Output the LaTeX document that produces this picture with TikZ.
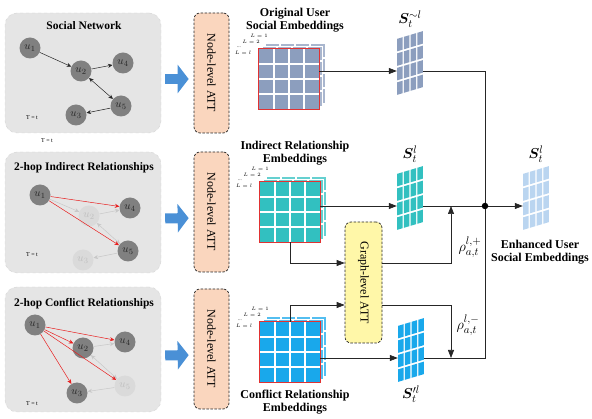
\documentclass[tikz,border=0pt]{standalone}
\usepackage{amsmath,amssymb,bm}
\usepackage{graphicx}
\usepackage{fontspec}
\setmainfont{Liberation Serif}
\usetikzlibrary{positioning,calc,arrows.meta}

\definecolor{panelgray}{RGB}{229,229,229}
\definecolor{panelline}{RGB}{212,212,212}
\definecolor{userdark}{RGB}{128,128,128}
\definecolor{userfade}{RGB}{218,218,218}
\definecolor{edgefade}{RGB}{200,200,200}
\definecolor{edgered}{RGB}{232,30,30}
\definecolor{attpeach}{RGB}{250,214,190}
\definecolor{attyellow}{RGB}{255,247,168}
\definecolor{bluearrow}{RGB}{74,144,214}
\definecolor{embslate}{RGB}{140,158,190}
\definecolor{embteal}{RGB}{50,192,192}
\definecolor{embblue}{RGB}{25,168,235}
\definecolor{embsoft}{RGB}{186,213,240}
\definecolor{embred}{RGB}{225,50,50}

% stacked embedding matrix: name, centre, colour
\newcommand{\embstack}[3]{%
  \coordinate (#1-c) at (#2);
  \foreach \d in {6,3}{
    \fill[#3!75!white] ([shift={(-30+\d,-30-\d)}]#1-c) rectangle ++(60,60);
    \draw[white, line width=.8pt] ([shift={(-30+\d,-30-\d)}]#1-c) rectangle ++(60,60);
    \foreach \k in {15,30,45}{
      \draw[white, line width=1.2pt] ([shift={(-30+\d+\k,-30-\d)}]#1-c) -- ++(0,60);
      \draw[white, line width=1.2pt] ([shift={(-30+\d,-30-\d+\k)}]#1-c) -- ++(60,0);
    }
  }
  \node[emb, fill=#3] (#1) at (#1-c) {};
  \foreach \k in {15,30,45}{
    \draw[white, line width=1.5pt] ([shift={(-30+\k,-30)}]#1-c) -- ++(0,60);
    \draw[white, line width=1.5pt] ([shift={(-30,-30+\k)}]#1-c) -- ++(60,0);
  }
  \draw[embedge] (#1.north west) rectangle (#1.south east);
  \node[layer] (#1-l1) at ([shift={(-30,-43)}]#1-c) {$L=1$};
  \node[layer] (#1-l2) at ([shift={(-38,-37)}]#1-c) {$L=2$};
  \node[layer] (#1-ld) at ([shift={(-50,-32)}]#1-c) {...};
  \node[layer] (#1-ll) at ([shift={(-46,-26)}]#1-c) {$L=l$};
}

% slanted user embedding: name, centre, colour, label
\newcommand{\slantgrid}[4]{%
  \node[slot, #4] (#1) at (#2) {};
  \begin{scope}[shift={(#1.center)}, yslant=0.3]
    \foreach \i in {0,...,3}
      \foreach \j in {0,...,3}
        \fill[#3] (-13+6.8*\i, -28+14.5*\j) rectangle ++(5.5,12.5);
  \end{scope}
}

\begin{document}
\begin{tikzpicture}[x=1pt,y=-1pt]
  \tikzstyle{panel}=[draw=panelline, dashed, fill=panelgray, rounded corners=12pt,
    minimum width=156pt]
  \tikzstyle{ptitle}=[font=\bfseries\fontsize{11.5}{13}\selectfont]
  \tikzstyle{user}=[circle, fill=userdark, inner sep=0pt, minimum size=21pt,
    font=\fontsize{11}{12}\selectfont, text=black!85]
  \tikzstyle{ghost}=[user, fill=userfade, text=black!25]
  \tikzstyle{tlabel}=[font=\fontsize{6}{7}\selectfont]
  \tikzstyle{fedge}=[-{Stealth[length=4.5pt,width=4pt]}, line width=.5pt, black!85]
  \tikzstyle{fboth}=[fedge, {Stealth[length=4.5pt,width=4pt]}-{Stealth[length=4.5pt,width=4pt]}]
  \tikzstyle{gedge}=[fedge, edgefade]
  \tikzstyle{gboth}=[fboth, edgefade]
  \tikzstyle{redge}=[fedge, edgered]
  \tikzstyle{bigarrow}=[bluearrow, line width=10pt, -{Triangle[length=11pt,width=28pt]},
    shorten <=4pt, shorten >=5pt]
  \tikzstyle{nodeatt}=[draw=black!85, line width=.7pt, dash pattern=on 2.5pt off 1.5pt,
    fill=attpeach, rounded corners=6pt, minimum width=35pt, minimum height=120pt,
    font=\fontsize{12}{13}\selectfont]
  \tikzstyle{graphatt}=[nodeatt, fill=attyellow, minimum width=37pt, minimum height=121pt]
  \tikzstyle{emb}=[inner sep=0pt, minimum size=60pt]
  \tikzstyle{embedge}=[draw=embred, line width=.8pt]
  \tikzstyle{layer}=[inner sep=0pt, font=\fontsize{5}{6}\selectfont]
  \tikzstyle{slot}=[inner sep=0pt, minimum width=26pt, minimum height=68pt]
  \tikzstyle{slotlab}=[font=\fontsize{15}{16}\selectfont, inner sep=1pt]
  \tikzstyle{caption}=[align=center, font=\bfseries\fontsize{12}{13}\selectfont]
  \tikzstyle{rholab}=[font=\fontsize{15}{16}\selectfont]
  \tikzstyle{arr}=[-{Triangle[length=8pt,width=6pt]}, line width=.7pt, black!85]
  \tikzstyle{line}=[line width=.7pt, black!85]
  \tikzstyle{hub}=[circle, fill=black, inner sep=0pt, minimum size=6.5pt]

  \useasboundingbox (0,0) rectangle (592,419);

  % left panels
  \node[panel, minimum height=120pt] (net) at (83,73) {};
  \node[panel, minimum height=121pt] (ind) at (83,212.5) {};
  \node[panel, minimum height=125pt] (con) at (83,349.5) {};
  \node[ptitle] (nettitle) at (84,26) {Social Network};
  \node[ptitle] (indtitle) at (84,168) {2-hop Indirect Relationships};
  \node[ptitle] (contitle) at (84,304) {2-hop Conflict Relationships};
  \node[tlabel] (nett) at (32,118) {T = t};
  \node[tlabel] (indt) at (32,255) {T = t};
  \node[tlabel] (cont) at (32,404) {T = t};
  \node[tlabel] (tstray) at (47,141) {T = t};

  % social network
  \node[user] (n1) at (30,48) {$u_1$};
  \node[user] (n2) at (81,71) {$u_2$};
  \node[user] (n4) at (123,63) {$u_4$};
  \node[user] (n5) at (121,106) {$u_5$};
  \node[user] (n3) at (76,115) {$u_3$};
  \path
  (n1) edge [fedge] (n2)
  (n2) edge [fedge] (n4)
  (n2) edge [fboth] (n5)
  (n5) edge [fedge] (n3);

  % indirect relationships
  \node[user] (i1) at (40,195) {$u_1$};
  \node[ghost] (i2) at (89,216) {$u_2$};
  \node[user] (i4) at (130,208) {$u_4$};
  \node[user] (i5) at (128,251) {$u_5$};
  \node[ghost] (i3) at (83,260) {$u_3$};
  \path
  (i1) edge [gedge] (i2)
  (i2) edge [gedge] (i4)
  (i2) edge [gboth] (i5)
  (i5) edge [gedge] (i3)
  (i1) edge [redge] (i4)
  (i1) edge [redge] (i5);

  % conflict relationships
  \node[user] (c1) at (35,325) {$u_1$};
  \node[user] (c2) at (83,348) {$u_2$};
  \node[user] (c4) at (125,342) {$u_4$};
  \node[ghost] (c5) at (125,386) {$u_5$};
  \node[user] (c3) at (77,393) {$u_3$};
  \path
  (c2) edge [gedge] (c4)
  (c2) edge [gboth] (c5)
  (c5) edge [gedge] (c3)
  (c1) edge [redge] (c4)
  (c1) edge [redge] (c2)
  (c1) edge [redge] (c5)
  (c1) edge [redge] (c3);

  % node-level attention
  \node[nodeatt] (natt1) at (211.5,73) {\rotatebox{-90}{Node-level ATT}};
  \node[nodeatt] (natt2) at (211.5,212) {\rotatebox{-90}{Node-level ATT}};
  \node[nodeatt] (natt3) at (211.5,349) {\rotatebox{-90}{Node-level ATT}};
  \draw[bigarrow] ([yshift=-6pt]net.east) -- ([yshift=-6pt]natt1.west);
  \draw[bigarrow] ([yshift=-6pt]ind.east) -- ([yshift=-6pt]natt2.west);
  \draw[bigarrow] ([yshift=-6pt]con.east) -- ([yshift=-6pt]natt3.west);

  % embeddings
  \embstack{orig}{289,79}{embslate}
  \embstack{indir}{290,212}{embteal}
  \embstack{confl}{290,352}{embblue}
  \node[caption] (origtxt) at (295,20) {Original User\\Social Embeddings};
  \node[caption] (indirtxt) at (295,153) {Indirect Relationship\\Embeddings};
  \node[caption] (confltxt) at (295,402) {Conflict Relationship\\Embeddings};

  \node[graphatt] (gatt) at (363.5,282.5) {\rotatebox{-90}{Graph-level ATT}};

  \slantgrid{stil}{410,63}{embslate}{label={[slotlab]above:{$\bm{S}_t^{\sim l}$}}}
  \slantgrid{smid}{410,198}{embteal}{label={[slotlab]above:{$\bm{S}_t^{l}$}}}
  \slantgrid{spr}{411,350}{embblue}{label={[slotlab]below:{$\bm{S}_t^{\prime l}$}}}
  \slantgrid{enh}{536,198}{embsoft}{label={[slotlab]above:{$\bm{S}_t^{l}$}}}
  \node[caption, below=4pt of enh, xshift=4pt] (enhtxt) {Enhanced User\\Social Embeddings};

  \node[hub] (hub) at (485,206) {};
  \coordinate (rpin) at (451,206);
  \coordinate (rmin) at (451,358);

  \draw[arr] ([yshift=8pt]orig.east) -- ([yshift=-8pt]stil.west);
  \draw[arr] ([yshift=6pt]indir.east) -- ([yshift=-8pt]smid.west);
  \draw[arr] ([yshift=-6pt]confl.east) -- ([yshift=-8pt]spr.west);
  \draw[arr] (indir.south) |- ([yshift=19.5pt]gatt.west);
  \draw[arr] (confl.north) |- ([yshift=-22.5pt]gatt.west);
  \draw[arr] ([yshift=19.5pt]gatt.east) -| (rpin);
  \draw[arr] ([yshift=-22.5pt]gatt.east) -| (rmin);
  \draw[line] ([yshift=-8pt]stil.east) -| (hub);
  \draw[line] ([yshift=-8pt]smid.east) -- (hub);
  \draw[line] ([yshift=-8pt]spr.east) -| (hub);
  \draw[arr] (hub) -- ([yshift=-8pt]enh.west);

  \node[rholab] (rhop) at (470,247) {$\rho_{a,t}^{l,+}$};
  \node[rholab] (rhom) at (468,325) {$\rho_{a,t}^{l,-}$};
\end{tikzpicture}
\end{document}
